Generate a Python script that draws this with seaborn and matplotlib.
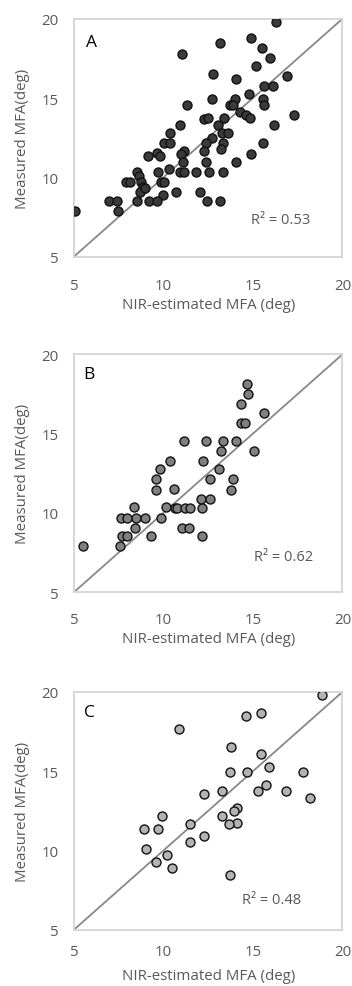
import matplotlib
matplotlib.use("Agg")
import matplotlib.pyplot as plt
import seaborn as sns
import pandas as pd

# Panel A
a_x = [16.27, 13.16, 14.89, 11.01, 15.48, 15.95, 15.17, 12.75, 16.9, 14.05,
       15.61, 16.14, 14.76, 12.71, 13.99, 15.54, 11.31, 13.72, 13.9, 15.63,
       14.27, 14.61, 14.83, 17.31, 13.38, 12.26, 12.5, 10.92, 16.19, 13.03,
       10.36, 13.25, 13.58, 12.69, 10.01, 10.34, 12.36, 13.31, 15.54, 13.19,
       12.28, 11.15, 10.98, 9.15, 9.64, 9.8, 14.89, 11.11, 12.36, 14.03,
       10.31, 8.52, 9.71, 10.92, 11.15, 11.8, 12.54, 13.31, 8.65, 7.9,
       8.13, 8.74, 9.84, 10.05, 8.84, 8.69, 8.97, 10.7, 9.99, 12.04,
       6.94, 7.38, 8.54, 9.17, 9.62, 12.45, 13.16, 7.44, 5.04]
a_y = [19.79, 18.48, 18.8, 17.79, 18.15, 17.54, 16.99, 16.53, 16.36, 16.17,
       15.73, 15.73, 15.26, 14.95, 14.95, 14.95, 14.57, 14.57, 14.57, 14.57,
       14.15, 13.94, 13.75, 13.94, 13.75, 13.68, 13.77, 13.31, 13.31, 13.31,
       12.78, 12.78, 12.78, 12.46, 12.15, 12.15, 12.15, 12.15, 12.15, 11.79,
       11.68, 11.68, 11.47, 11.33, 11.54, 11.33, 11.47, 10.95, 10.95, 10.95,
       10.53, 10.36, 10.32, 10.32, 10.32, 10.32, 10.32, 10.32, 10.11, 9.68,
       9.68, 9.68, 9.68, 9.68, 9.37, 9.05, 9.33, 9.05, 8.88, 9.05,
       8.53, 8.53, 8.53, 8.53, 8.53, 8.53, 8.53, 7.89, 7.89]

# Panel B
b_x = [14.68, 14.74, 14.35, 15.63, 14.35, 14.53, 11.16, 12.36, 13.31, 14.03,
       13.23, 15.06, 10.38, 12.19, 9.8, 13.08, 9.56, 12.6, 13.86, 9.56,
       10.61, 13.79, 12.11, 12.6, 8.37, 10.12, 10.66, 10.77, 11.22, 11.5,
       12.13, 7.64, 7.98, 8.48, 8.95, 9.84, 8.39, 11.03, 11.44, 7.66,
       7.99, 9.3, 12.13, 7.59, 5.52]
b_y = [18.11, 17.48, 16.85, 16.33, 15.7, 15.7, 14.55, 14.55, 14.55, 14.55,
       13.92, 13.92, 13.29, 13.29, 12.76, 12.76, 12.13, 12.13, 12.13, 11.46,
       11.5, 11.46, 10.87, 10.87, 10.35, 10.35, 10.31, 10.31, 10.31, 10.31,
       10.31, 9.68, 9.68, 9.68, 9.68, 9.68, 9.05, 9.05, 9.05, 8.52,
       8.52, 8.52, 8.52, 7.9, 7.9]

# Panel C
c_x = [18.86, 14.61, 15.45, 10.87, 13.77, 15.45, 15.92, 13.72, 14.65, 17.79,
       15.73, 13.25, 15.3, 16.84, 12.26, 18.2, 14.09, 13.94, 9.9, 13.25,
       11.51, 14.09, 13.68, 8.93, 9.69, 11.49, 12.26, 9.0, 10.2, 9.56,
       10.46, 13.72]
c_y = [19.79, 18.51, 18.68, 17.69, 16.54, 16.08, 15.28, 14.92, 14.92, 14.92,
       14.13, 13.75, 13.75, 13.75, 13.58, 13.31, 12.7, 12.49, 12.15, 12.15,
       11.69, 11.76, 11.67, 11.34, 11.34, 10.54, 10.9, 10.08, 9.72, 9.26,
       8.92, 8.44]

panel_labels = ["A", "B", "C"]
r2_labels = ["R² = 0.53", "R² = 0.62", "R² = 0.48"]
ticks = [5, 10, 15, 20]

sns.set_theme(style="white")
plt.rcParams['font.family'] = ['Open Sans', 'DejaVu Sans']

fig = plt.figure(figsize=(3.52, 9.87), dpi=100)
boxes = [(0.210, 0.739), (0.210, 0.399), (0.210, 0.057)]
w, h = 0.763, 0.241
fills = ["#3a3a3a", "#808080", "#b3b3b3"]
data = [(a_x, a_y), (b_x, b_y), (c_x, c_y)]
r2_pos = [(16.56, 7.37), (16.73, 7.22), (16.04, 6.93)]
label_pos = [(6.0, 18.55), (5.85, 18.79), (5.85, 18.74)]
xpads = [15.5, 14.5, 10.0]
xlabelpads = [2.5, 3.0, 6.5]

tick_color = "#595959"
for i, ((xs, ys), (l, b)) in enumerate(zip(data, boxes)):
    ax = fig.add_axes([l, b, w, h])
    df = pd.DataFrame({"x": xs, "y": ys})
    ax.plot([5, 20], [5, 20], color="#888888", lw=1.3, zorder=1)
    sns.scatterplot(data=df, x="x", y="y", ax=ax, color=fills[i],
                    edgecolor="#111111", linewidth=1.0, s=42, zorder=3, legend=False)
    ax.set_xlim(5, 20)
    ax.set_ylim(5, 20)
    ax.set_xticks(ticks)
    ax.set_yticks(ticks)
    ax.tick_params(axis="both", length=0, labelsize=10.8, labelcolor=tick_color)
    ax.tick_params(axis="x", pad=xpads[i])
    ax.tick_params(axis="y", pad=11)
    for s in ax.spines.values():
        s.set_color("#d4d4d4")
        s.set_linewidth(1.3)
    ax.set_ylabel("Measured MFA(deg)", fontsize=10.8, color=tick_color, labelpad=8)
    ax.set_xlabel("NIR-estimated MFA (deg)", fontsize=10.8, color=tick_color,
                  labelpad=xlabelpads[i])
    ax.text(label_pos[i][0], label_pos[i][1], panel_labels[i], fontsize=12.5,
            color="black", ha="center", va="center")
    ax.text(r2_pos[i][0], r2_pos[i][1], r2_labels[i], fontsize=10.5, color=tick_color,
            ha="center", va="center")
    ax.grid(False)

fig.savefig("out.png", dpi=100)
